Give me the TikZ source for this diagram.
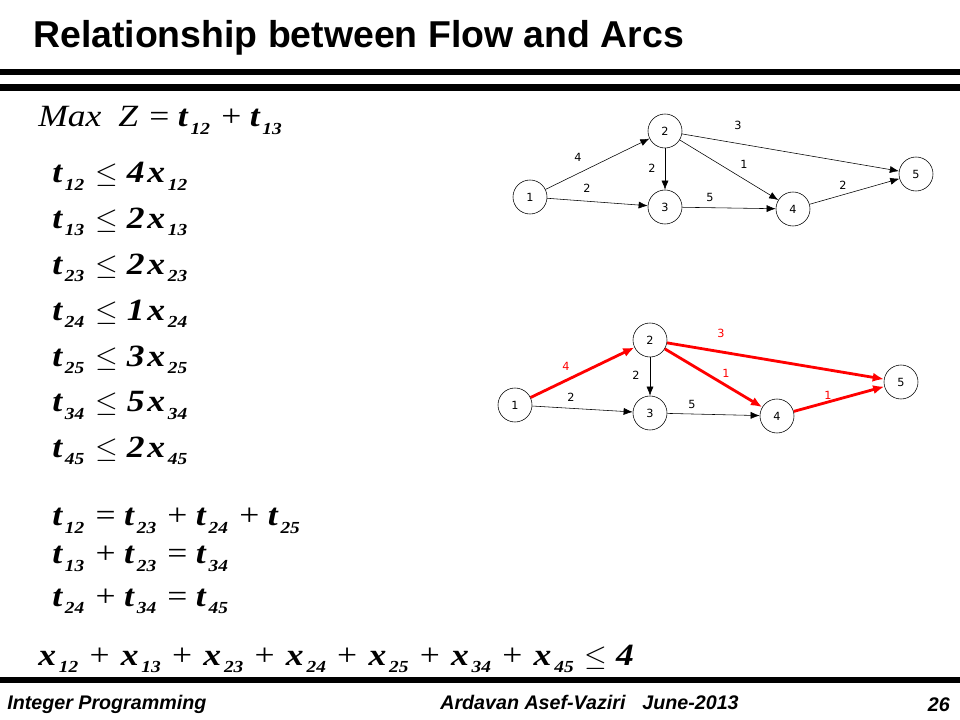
\documentclass[tikz,border=0pt]{standalone}
\usepackage{fontspec}
\usetikzlibrary{arrows.meta}
\setmainfont{Liberation Serif}
\newfontfamily\titlefont{Liberation Sans}
\newfontfamily\nodefont{DejaVu Sans}
\newfontfamily\footfont{Liberation Sans}
\newfontfamily\eqfont[FakeStretch=1.15]{Liberation Serif}
\newcommand{\vsub}[2]{{\bfseries\itshape #1}\hspace{2pt}\raisebox{-5pt}{\fontsize{12}{12}\selectfont\bfseries\itshape #2}}
\newcommand{\rel}[1]{\hspace{8pt}{\mdseries\upshape #1}\hspace{6pt}}
\begin{document}
\begin{tikzpicture}[x=0.025cm,y=-0.025cm,>={Latex[length=6.5pt,width=5pt]},line join=round,
	vtx/.style={circle,draw,thin,minimum size=0.85cm,inner sep=0pt,font=\nodefont\fontsize{8}{8}\selectfont},
	lbl/.style={inner sep=0pt,font=\nodefont\fontsize{8}{8}\selectfont},
	arc/.style={->,thin},
	flow/.style={-{Latex[length=8pt,width=6.5pt]},red,line width=2pt},
	eq/.style={anchor=base west,inner sep=0pt,font=\eqfont\fontsize{22}{22}\selectfont},
	foot/.style={inner sep=0pt,font=\footfont\bfseries\itshape\fontsize{14}{14}\selectfont}]
	\useasboundingbox (0,0) rectangle (960,720);
	% title and bars
	\node[anchor=base west,inner sep=0pt,font=\titlefont\bfseries\fontsize{26.6}{26.6}\selectfont] (title) at (33,48) {Relationship between Flow and Arcs};
	\fill (0,69) rectangle (960,75);
	\fill (0,84) rectangle (960,91);
	\fill (0,677) rectangle (960,683);
	% model
	\node[eq] (obj) at (38,127) {{\itshape Max\hspace{12pt}Z}\rel{=}\vsub{t}{12}\rel{+}\vsub{t}{13}};
	\foreach \ij/\c [count=\k] in {12/4,13/2,23/2,24/1,25/3,34/5,45/2}{
		\node[eq] (cap\ij) at (52,{183+45.8*(\k-1)}) {\vsub{t}{\ij}\rel{$\leq$}{\bfseries\itshape\c}\hspace{2pt}\vsub{x}{\ij}};
	}
	\node[eq] (bal2) at (52,526) {\vsub{t}{12}\rel{=}\vsub{t}{23}\rel{+}\vsub{t}{24}\rel{+}\vsub{t}{25}};
	\node[eq] (bal3) at (52,564) {\vsub{t}{13}\rel{+}\vsub{t}{23}\rel{=}\vsub{t}{34}};
	\node[eq] (bal4) at (52,606) {\vsub{t}{24}\rel{+}\vsub{t}{34}\rel{=}\vsub{t}{45}};
	\node[eq] (card) at (38,665) {\vsub{x}{12}\rel{+}\hspace{2pt}\vsub{x}{13}\rel{+}\hspace{2pt}\vsub{x}{23}\rel{+}\hspace{2pt}\vsub{x}{24}\rel{+}\hspace{2pt}\vsub{x}{25}\rel{+}\hspace{2pt}\vsub{x}{34}\rel{+}\hspace{2pt}\vsub{x}{45}\rel{$\leq$}{\bfseries\itshape 4}};
	% network with capacities
	\node[vtx] (a1) at (530,197) {1};
	\node[vtx] (a2) at (665,131) {2};
	\node[vtx] (a3) at (665,207) {3};
	\node[vtx] (a4) at (793,209) {4};
	\node[vtx] (a5) at (916,174) {5};
	\draw[arc] (a1)--(a2);
	\draw[arc] (a1)--(a3);
	\draw[arc] (a2)--(a3);
	\draw[arc] (a2)--(a4);
	\draw[arc] (a2)--(a5);
	\draw[arc] (a3)--(a4);
	\draw[arc] (a4)--(a5);
	\node[lbl] (la12) at (578,157) {4};
	\node[lbl] (la13) at (587,188) {2};
	\node[lbl] (la23) at (652,168) {2};
	\node[lbl] (la24) at (744,164) {1};
	\node[lbl] (la25) at (738,125) {3};
	\node[lbl] (la34) at (710,197) {5};
	\node[lbl] (la45) at (843,185) {2};
	% network with flows
	\node[vtx] (b1) at (515,405) {1};
	\node[vtx] (b2) at (650,340) {2};
	\node[vtx] (b3) at (650,413) {3};
	\node[vtx] (b4) at (777,416) {4};
	\node[vtx] (b5) at (901,382) {5};
	\draw[flow] (b1)--(b2);
	\draw[arc] (b1)--(b3);
	\draw[arc] (b2)--(b3);
	\draw[flow] (b2)--(b4);
	\draw[flow] (b2)--(b5);
	\draw[arc] (b3)--(b4);
	\draw[flow] (b4)--(b5);
	\node[lbl,red] (lb12) at (566,366) {4};
	\node[lbl] (lb13) at (571,397) {2};
	\node[lbl] (lb23) at (636,375) {2};
	\node[lbl,red] (lb24) at (726,373) {1};
	\node[lbl,red] (lb25) at (721,333) {3};
	\node[lbl] (lb34) at (692,404) {5};
	\node[lbl,red] (lb45) at (828,395) {1};
	% footer
	\node[foot,anchor=base west] (course) at (7,709) {Integer Programming};
	\node[foot,anchor=base west] (author) at (440,709) {Ardavan Asef-Vaziri\hspace{12pt}June-2013};
	\node[foot,anchor=base east] (page) at (950,711) {26};
\end{tikzpicture}
\end{document}
